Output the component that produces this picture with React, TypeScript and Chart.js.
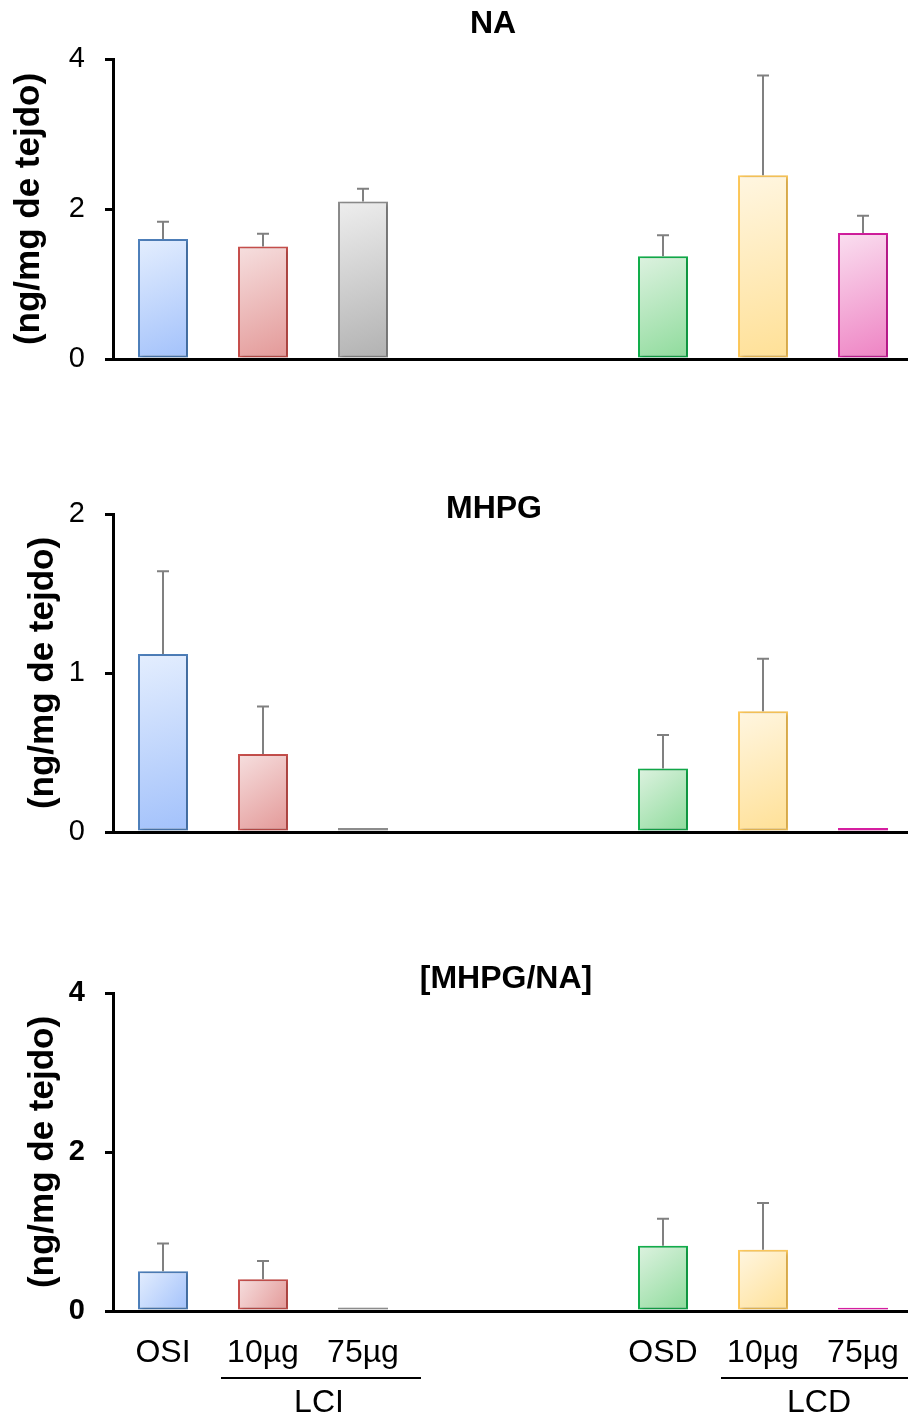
import React, { useEffect, useRef } from 'react';
import { Chart, registerables } from 'chart.js';

Chart.register(...registerables);

const FONT = "'Liberation Sans', Arial, Helvetica, sans-serif";

// ---- data ----
const categories = ['OSI', '10µg', '75µg', '', '', 'OSD', '10µg', '75µg'];

const naMeans = [1.6, 1.5, 2.1, null, null, 1.37, 2.45, 1.68];
const naErrors = [0.23, 0.17, 0.17, null, null, 0.28, 1.33, 0.23];

const mhpgMeans = [1.12, 0.49, 0.025, null, null, 0.4, 0.76, 0.025];
const mhpgErrors = [0.52, 0.3, 0, null, null, 0.21, 0.33, 0];

const ratioMeans = [0.5, 0.4, 0.045, null, null, 0.82, 0.77, 0.04];
const ratioErrors = [0.35, 0.23, 0, null, null, 0.34, 0.59, 0];

const naTicks = [0, 2, 4];
const mhpgTicks = [0, 1, 2];
const ratioTicks = [0, 2, 4];

const groupLabels = ['LCI', 'LCD'];
const groupRanges = [
  [1, 2],
  [6, 7],
];

const yAxisTitle = '(ng/mg de tejdo)';

// ---- styles ----
const lightColors = ['#e4eefe', '#f6dfdf', '#eeeeee', '#fff', '#fff', '#ddf2e0', '#fff6e1', '#fadff0'];
const darkColors = ['#a2c1fb', '#e39897', '#b1b1b1', '#fff', '#fff', '#8edb9b', '#ffe096', '#ee82c3'];
const borderColors = ['#4f81bd', '#c9504d', '#8c8c8c', '#fff', '#fff', '#12b04c', '#ffca5c', '#d51ea0'];

type Panel = {
  top: number;
  height: number;
  padTop: number;
  padBottom: number;
  xHeight: number;
  showX: boolean;
  ticks: number[];
  tickBold: boolean;
  means: (number | null)[];
  errors: (number | null)[];
  title: string;
  titleX: number;
  titleBaseline: number;
  yTitlePad: number;
  groups: boolean;
};

function makePlugin(p: Panel) {
  return {
    id: 'panelExtras',
    beforeDatasetsDraw(chart: any) {
      const ctx = chart.ctx;
      ctx.save();
      ctx.shadowColor = 'rgba(0,0,0,0.22)';
      ctx.shadowBlur = 4;
      ctx.shadowOffsetX = 2;
      ctx.shadowOffsetY = 1;
    },
    afterDatasetsDraw(chart: any) {
      const ctx = chart.ctx;
      ctx.restore();
      const xs = chart.scales.x;
      const ys = chart.scales.y;
      ctx.save();
      ctx.strokeStyle = '#808080';
      ctx.lineWidth = 2;
      p.means.forEach((m, i) => {
        const e = p.errors[i];
        if (m == null || e == null || e <= 0) return;
        const px = xs.getPixelForValue(i);
        const base = ys.getPixelForValue(m);
        const top = ys.getPixelForValue(m + e);
        ctx.beginPath();
        ctx.moveTo(px, base);
        ctx.lineTo(px, top);
        ctx.moveTo(px - 6, top);
        ctx.lineTo(px + 6, top);
        ctx.stroke();
      });
      ctx.restore();
    },
    afterDraw(chart: any) {
      const ctx = chart.ctx;
      ctx.save();
      ctx.fillStyle = '#000';
      ctx.textAlign = 'center';
      ctx.textBaseline = 'alphabetic';
      ctx.font = `bold 32px ${FONT}`;
      ctx.fillText(p.title, p.titleX, p.titleBaseline);
      if (p.groups) {
        const xs = chart.scales.x;
        const w = xs.getPixelForValue(1) - xs.getPixelForValue(0);
        const lineY = xs.top + 67;
        ctx.strokeStyle = '#000';
        ctx.lineWidth = 2;
        ctx.font = `32px ${FONT}`;
        groupRanges.forEach((r, gi) => {
          const a = xs.getPixelForValue(r[0]);
          const b = xs.getPixelForValue(r[1]);
          ctx.beginPath();
          ctx.moveTo(a - 0.42 * w, lineY);
          ctx.lineTo(b + 0.58 * w, lineY);
          ctx.stroke();
          ctx.fillText(groupLabels[gi], (a + b) / 2 + 6, xs.top + 101);
        });
      }
      ctx.restore();
    },
  };
}

function makeConfig(p: Panel): any {
  const yMax = p.ticks[p.ticks.length - 1];
  const step = p.ticks[1] - p.ticks[0];
  return {
    type: 'bar',
    data: {
      labels: categories,
      datasets: [
        {
          data: p.means,
          backgroundColor: (c: any) => {
            const i = c.dataIndex;
            if (i == null || c.type !== 'data') return lightColors[0];
            const chart = c.chart;
            const xs = chart.scales && chart.scales.x;
            const ys = chart.scales && chart.scales.y;
            const v = p.means[i];
            if (!xs || !ys || v == null || !chart.chartArea) return lightColors[i];
            const px = xs.getPixelForValue(i);
            const half = (xs.getPixelForValue(1) - xs.getPixelForValue(0)) * 0.25;
            const yTop = ys.getPixelForValue(v);
            const yBot = ys.getPixelForValue(0);
            if (![px, half, yTop, yBot].every((n) => Number.isFinite(n))) return lightColors[i];
            const g = chart.ctx.createLinearGradient(px - half, yTop, px + half, yBot);
            g.addColorStop(0, lightColors[i]);
            g.addColorStop(1, darkColors[i]);
            return g;
          },
          borderColor: borderColors,
          borderWidth: 2,
          borderSkipped: false,
          barPercentage: 0.5,
          categoryPercentage: 1,
        },
      ],
    },
    options: {
      animation: false,
      responsive: false,
      maintainAspectRatio: false,
      events: [],
      layout: { padding: { top: p.padTop, bottom: p.padBottom, left: 0, right: 3 } },
      plugins: {
        legend: { display: false },
        tooltip: { enabled: false },
        title: { display: false },
      },
      scales: {
        x: {
          type: 'category',
          offset: true,
          grid: { display: false, drawTicks: false },
          border: { display: true, color: '#000', width: 3 },
          ticks: {
            display: p.showX,
            autoSkip: false,
            maxRotation: 0,
            padding: 23,
            color: '#000',
            font: { family: FONT, size: 32 },
          },
          afterFit: (s: any) => {
            s.height = p.xHeight;
            s.paddingLeft = 0;
            s.paddingRight = 0;
          },
        },
        y: {
          min: 0,
          max: yMax,
          ticks: {
            stepSize: step,
            padding: 20,
            color: '#000',
            font: { family: FONT, size: 29, weight: p.tickBold ? 'bold' : 'normal' },
          },
          grid: {
            display: true,
            drawOnChartArea: false,
            drawTicks: true,
            tickLength: 8,
            color: '#000',
            lineWidth: 3,
          },
          border: { display: true, color: '#000', width: 3 },
          title: {
            display: true,
            text: yAxisTitle,
            color: '#000',
            font: { family: FONT, size: 35, weight: 'bold' },
            padding: { top: p.yTitlePad, bottom: 0 },
          },
          afterFit: (s: any) => {
            s.width = 113;
            s.paddingTop = 0;
            s.paddingBottom = 0;
          },
        },
      },
    },
    plugins: [makePlugin(p)],
  };
}

const panels: Panel[] = [
  {
    top: 0,
    height: 420,
    padTop: 59,
    padBottom: 61,
    xHeight: 0,
    showX: false,
    ticks: naTicks,
    tickBold: false,
    means: naMeans,
    errors: naErrors,
    title: 'NA',
    titleX: 493,
    titleBaseline: 33,
    yTitlePad: 8,
    groups: false,
  },
  {
    top: 420,
    height: 470,
    padTop: 94,
    padBottom: 58,
    xHeight: 0,
    showX: false,
    ticks: mhpgTicks,
    tickBold: false,
    means: mhpgMeans,
    errors: mhpgErrors,
    title: 'MHPG',
    titleX: 494,
    titleBaseline: 98,
    yTitlePad: 22,
    groups: false,
  },
  {
    top: 890,
    height: 526,
    padTop: 103,
    padBottom: 0,
    xHeight: 105,
    showX: true,
    ticks: ratioTicks,
    tickBold: true,
    means: ratioMeans,
    errors: ratioErrors,
    title: '[MHPG/NA]',
    titleX: 506,
    titleBaseline: 98,
    yTitlePad: 22,
    groups: true,
  },
];

function BarPanel({ p }: { p: Panel }) {
  const ref = useRef<HTMLCanvasElement | null>(null);
  useEffect(() => {
    if (!ref.current) return;
    const chart = new Chart(ref.current, makeConfig(p));
    return () => chart.destroy();
  }, [p]);
  return (
    <canvas
      ref={ref}
      width={916}
      height={p.height}
      style={{ position: 'absolute', left: 0, top: p.top, width: 916, height: p.height, display: 'block' }}
    />
  );
}

export default function App() {
  return (
    <div
      style={{
        position: 'absolute',
        left: 0,
        top: 0,
        width: 908,
        height: 1416,
        overflow: 'hidden',
        background: '#fff',
      }}
    >
      {panels.map((p, i) => (
        <BarPanel key={i} p={p} />
      ))}
    </div>
  );
}
